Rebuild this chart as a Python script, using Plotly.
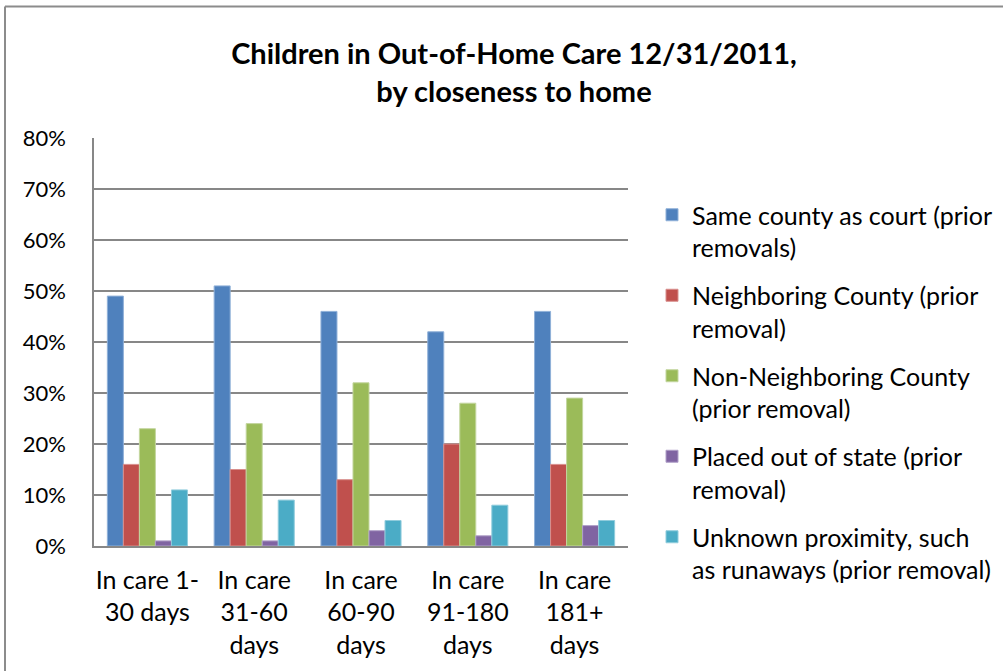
import plotly.graph_objects as go

categories = ["In care 1-<br>30 days", "In care<br>31-60<br>days", "In care<br>60-90<br>days",
              "In care<br>91-180<br>days", "In care<br>181+<br>days"]
series_names = ["Same county as court (prior<br>removals)",
                "Neighboring County (prior<br>removal)",
                "Non-Neighboring County<br>(prior removal)",
                "Placed out of state (prior<br>removal)",
                "Unknown proximity, such<br>as runaways (prior removal)"]
same_county = [49, 51, 46, 42, 46]
neighboring = [16, 15, 13, 20, 16]
non_neighboring = [23, 24, 32, 28, 29]
out_of_state = [1, 1, 3, 2, 4]
unknown = [11, 9, 5, 8, 5]
colors = ["#4F81BD", "#C0504D", "#9BBB59", "#8064A2", "#4BACC6"]
edge = ["#8FB0D8", "#D88F8D", "#C3D69F", "#B0A0C8", "#90CCDC"]

series = [same_county, neighboring, non_neighboring, out_of_state, unknown]
FONT = "Lato"

W, H = 1003, 671
L, R, T, B = 94, 628, 138, 546
pw, ph = R - L, B - T

fig = go.Figure()
for i, (name, vals) in enumerate(zip(series_names, series)):
    fig.add_trace(go.Bar(
        x=categories, y=[v / 100 for v in vals], name=name,
        marker=dict(color=colors[i], line=dict(color=edge[i], width=1)),
        legendgroup=str(i),
    ))

bx, by = (5 - L) / pw, (B - 6.5) / ph
fig.update_layout(
    width=W, height=H,
    margin=dict(l=L, r=W - R, t=T, b=H - B, pad=0, autoexpand=False),
    paper_bgcolor="white", plot_bgcolor="white",
    barmode="group", bargap=0.25, bargroupgap=0,
    font=dict(family=FONT, size=25, color="#000000"),
    title=dict(text="<b>Children in Out-of-Home Care 12/31/2011,<br>by closeness to home</b>",
               x=514 / W, xanchor="center", y=1 - 64 / H, yanchor="top",
               font=dict(family=FONT, size=29, color="#000000")),
    showlegend=True,
    legend=dict(x=(652 - L) / pw, xanchor="left", y=(B - 192) / ph, yanchor="top",
                valign="top", tracegroupgap=12.5, font=dict(family=FONT, size=25),
                bgcolor="rgba(0,0,0,0)"),
    yaxis=dict(range=[0, 0.8], dtick=0.1, tickformat=".0%", showgrid=True,
               gridcolor="#878787", gridwidth=1.5, showline=True, linecolor="#878787",
               linewidth=1.5, ticks="", ticklabelstandoff=22, zeroline=False,
               tickfont=dict(family=FONT, size=22)),
    xaxis=dict(showline=True, linecolor="#878787", linewidth=1.5, mirror=False,
               ticks="", tickfont=dict(family=FONT, size=25), ticklabelstandoff=11),
    shapes=[dict(type="line", xref="paper", yref="paper",
                 x0=bx, x1=(1010 - L) / pw, y0=by, y1=by,
                 line=dict(color="#8C8C8C", width=2)),
            dict(type="line", xref="paper", yref="paper",
                 x0=bx, x1=bx, y0=(B - 680) / ph, y1=by,
                 line=dict(color="#8C8C8C", width=2))],
)

fig.write_html("out.html", config={"displayModeBar": False},
               post_script="document.body.style.margin='0';")
